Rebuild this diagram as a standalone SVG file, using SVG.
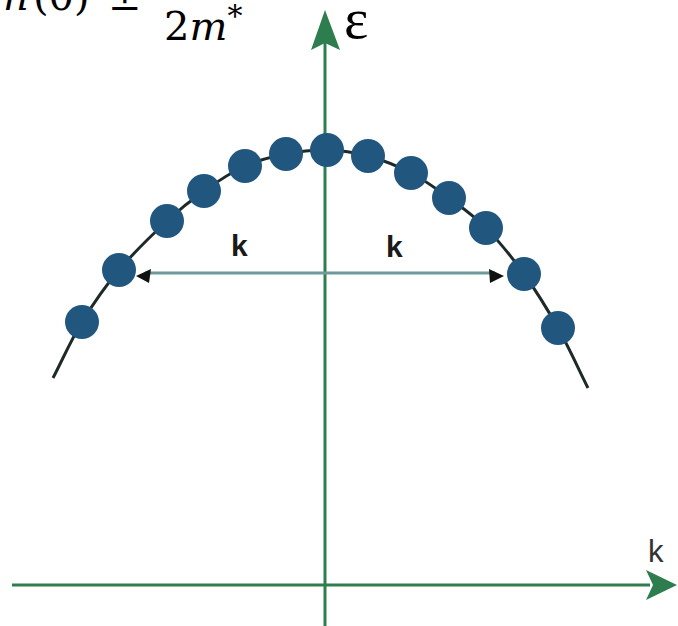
<svg xmlns="http://www.w3.org/2000/svg" width="678" height="626" viewBox="0 0 678 626">
<defs>
<style>
.axis{stroke:#2e7d4f;stroke-width:3;fill:none}
.ahead{fill:#2e7d4f}
.curve{stroke:#1e2a2a;stroke-width:3;fill:none}
.dot{fill:#21577f}
.kline{stroke:#6e9a9a;stroke-width:3;fill:none}
.khead{fill:#111}
.math{font-family:"DejaVu Serif","Liberation Serif",serif;fill:#000;font-size:40px}
.klabel{font-family:"Liberation Sans",Arial,sans-serif;font-weight:bold;font-size:30px;fill:#1a1a1a}
</style>
</defs>
<rect width="678" height="626" fill="#fff"/>
<g id="formula">
<text class="math" y="10"><tspan x="3" font-style="italic">n</tspan><tspan x="33">(0)</tspan><tspan x="108">±</tspan></text>
<text class="math" x="164" y="40">2<tspan font-style="italic">m</tspan><tspan font-size="30" dy="-14">*</tspan></text>
</g>
<g id="connectors">
<line class="axis" x1="325" y1="626" x2="325" y2="40"/>
<polygon class="ahead" points="325,10 340,50 325,43 311,50"/>
<line class="axis" x1="12" y1="585" x2="650" y2="585"/>
<polygon class="ahead" points="677,585 646,600 653,585 646,570"/>
<line class="kline" x1="145" y1="273" x2="495" y2="273"/>
<polygon class="khead" points="136,276 151,269 149,283"/>
<polygon class="khead" points="504,276 489,269 490,283"/>
</g>
<g id="band">
<path class="curve" d="M53,378 C62.7,359.3 71,340 82,322 C93,304 104.8,286.8 119,270 C133.2,253.2 152.8,234.2 167,221 C181.2,207.8 191,200.2 204,191 C217,181.8 231.3,172.2 245,166 C258.7,159.8 272.3,156.7 286,154 C299.7,151.3 313.3,149.7 327,150 C340.7,150.3 354,152.2 368,156 C382,159.8 397.5,166 411,173 C424.5,180 436.5,188.8 449,198 C461.5,207.2 473.5,215.3 486,228 C498.5,240.7 512,257.3 524,274 C536,290.7 547.3,309 558,328 C568.7,347 578,368 588,388"/>
</g>
<g id="dots">
<circle class="dot" cx="82" cy="322" r="17"/>
<circle class="dot" cx="119" cy="270" r="17"/>
<circle class="dot" cx="167" cy="221" r="17"/>
<circle class="dot" cx="204" cy="191" r="17"/>
<circle class="dot" cx="245" cy="166" r="17"/>
<circle class="dot" cx="286" cy="154" r="17"/>
<circle class="dot" cx="327" cy="150" r="17"/>
<circle class="dot" cx="368" cy="156" r="17"/>
<circle class="dot" cx="411" cy="173" r="17"/>
<circle class="dot" cx="449" cy="198" r="17"/>
<circle class="dot" cx="486" cy="228" r="17"/>
<circle class="dot" cx="524" cy="274" r="17"/>
<circle class="dot" cx="558" cy="328" r="17"/>
</g>
<g id="labels">
<text x="344" y="38" font-family="Liberation Serif,serif" font-size="58" fill="#000">ε</text>
<text class="klabel" x="231" y="256">k</text>
<text class="klabel" x="386" y="257">k</text>
<text x="648" y="562" font-family="Liberation Sans,Arial,sans-serif" font-size="31" fill="#333">k</text>
</g>
</svg>
